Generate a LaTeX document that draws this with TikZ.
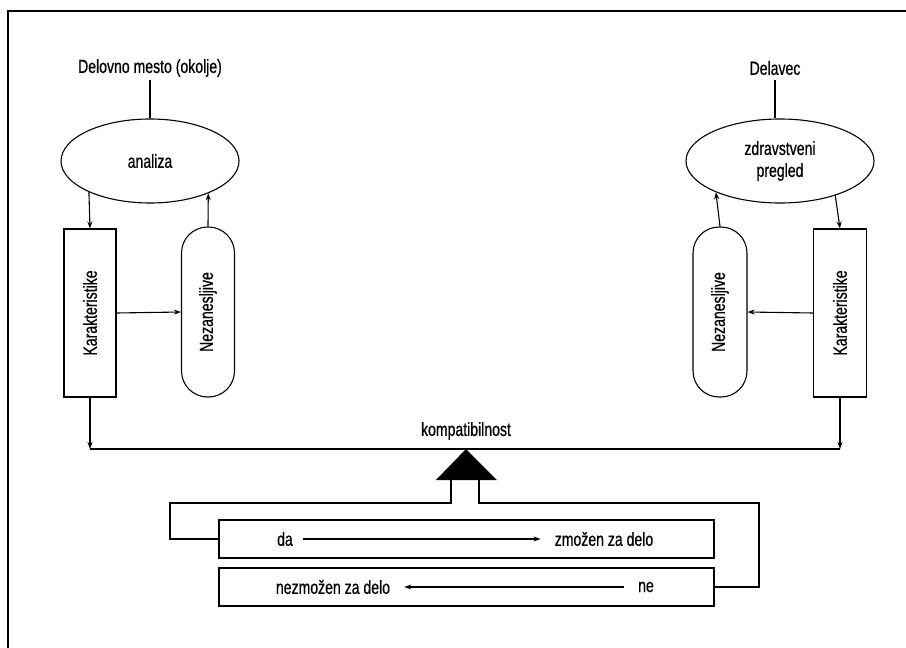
\documentclass[tikz,border=0pt]{standalone}
\usepackage{fontspec}
\setmainfont{Liberation Sans}[FakeStretch=0.74,FakeBold=0.6]
\usetikzlibrary{arrows.meta,shapes.geometric}
\begin{document}
\begin{tikzpicture}[x=1pt,y=-1pt,
  every node/.style={font=\fontsize{19}{21}\selectfont, inner sep=0pt},
  line/.style={draw=black, line width=1.1pt},
  arr/.style={line, -{Stealth[length=7pt,width=5pt]}},
  oval/.style={ellipse, draw, line width=1.1pt, minimum height=84pt},
  tallbox/.style={rectangle, draw, line width=1.1pt, minimum width=52pt, minimum height=168pt},
  pill/.style={rectangle, draw, line width=1.1pt, rounded corners=26pt, minimum width=53pt, minimum height=170pt},
  resultbox/.style={rectangle, draw, line width=1.1pt, minimum width=495pt, minimum height=38pt}]
  \useasboundingbox (0,0) rectangle (906,648);
  % frame
  \draw[line width=1.8pt] (906,11) -- (8,11) -- (8,648);

  % left branch: workplace
  \node (tl) at (150,68) {Delovno mesto (okolje)};
  \node[oval, minimum width=178pt] (el) at (150,161) {analiza};
  \node[tallbox] (kl) at (90,313) {\rotatebox{90}{Karakteristike}};
  \node[pill] (nl) at (208,312) {\rotatebox{90}{Nezanesljive}};
  \draw[line] (tl.south |- 0,80) -- (el.north);
  \draw[arr] (el.207.3) -- (kl.north);
  \draw[arr] (nl.north) -- (el.331.2);
  \draw[arr] (kl.east) -- (nl.west);

  % right branch: worker
  \node (tr) at (775,68) {Delavec};
  \node[oval, minimum width=188pt, align=center] (er) at (780,161) {zdravstveni\\[1pt]pregled};
  \node[tallbox, minimum width=53pt] (kr) at (840,313) {\rotatebox{90}{Karakteristike}};
  \node[pill, minimum width=54pt] (nr) at (720,312) {\rotatebox{90}{Nezanesljive}};
  \draw[line] (775,80) -- (er.north -| 775,0);
  \draw[arr] (er.328.2) -- (kr.north);
  \draw[arr] (nr.north) -- (er.206.3);
  \draw[arr] (kr.west) -- (nr.east);

  % compatibility bar
  \coordinate (barL) at (90,449);
  \coordinate (barR) at (840,449);
  \draw[line] (barL) -- (barR);
  \draw[arr] (kl.south) -- (barL);
  \draw[arr] (kr.south) -- (barR);
  \node (komp) at (466,431) {kompatibilnost};
  \coordinate (apex) at (466,449);
  \fill (apex) -- (436,480) -- (497,480) -- cycle;

  % outcome boxes
  \node[resultbox] (yes) at (466.5,539) {};
  \node[resultbox] (no) at (466.5,587) {};
  \draw[line] (451,480) -- (451,503) -- (170,503) |- (yes.west);
  \draw[line] (479,480) -- (479,503) -- (759,503) |- (no.east);

  \node (da) at (285,539) {da};
  \node (zm) at (604,539) {zmožen za delo};
  \draw[arr] ([xshift=10pt]da.east) -- ([xshift=-14pt]zm.west);
  \node (nz) at (333,587) {nezmožen za delo};
  \node (ne) at (646,587) {ne};
  \draw[arr] ([xshift=-14pt]ne.west) -- ([xshift=14pt]nz.east);
\end{tikzpicture}
\end{document}
